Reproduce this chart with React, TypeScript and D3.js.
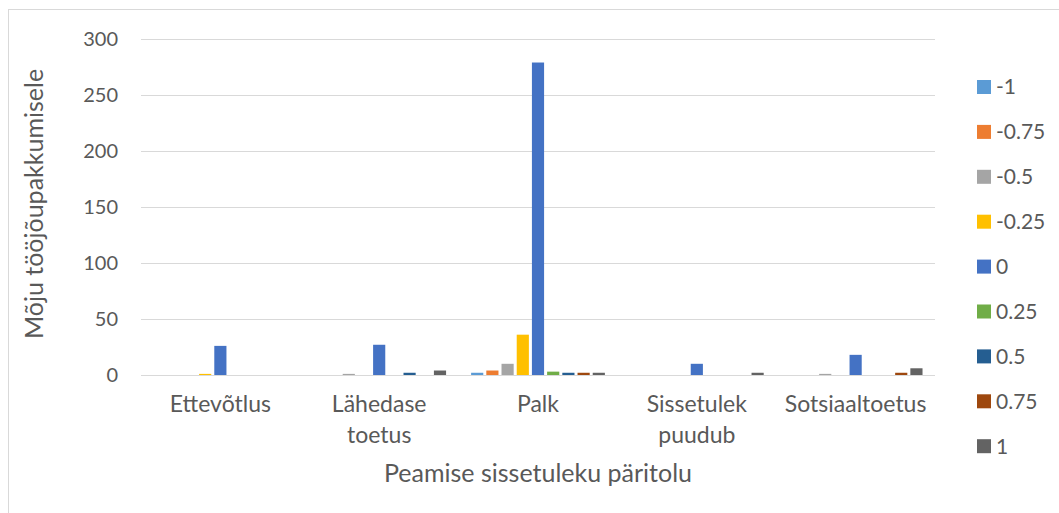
import React from "react";
import * as d3 from "d3";

const categories = ["Ettevõtlus", "Lähedase toetus", "Palk", "Sissetulek puudub", "Sotsiaaltoetus"];
const categoryLines = [["Ettevõtlus"], ["Lähedase", "toetus"], ["Palk"], ["Sissetulek", "puudub"], ["Sotsiaaltoetus"]];
const seriesNames = ["-1", "-0.75", "-0.5", "-0.25", "0", "0.25", "0.5", "0.75", "1"];
const seriesColors = ["#5B9BD5", "#ED7D31", "#A5A5A5", "#FFC000", "#4472C4", "#70AD47", "#255E91", "#9E480E", "#636363"];
const valuesEttevotlus = [0, 0, 0, 1, 26, 0, 0, 0, 0];
const valuesLahedase = [0, 0, 1, 0, 27, 0, 2, 0, 4];
const valuesPalk = [2, 4, 10, 36, 279, 3, 2, 2, 2];
const valuesPuudub = [0, 0, 0, 0, 10, 0, 0, 0, 2];
const valuesSotsiaal = [0, 0, 1, 0, 18, 0, 0, 2, 6];
const yTicks = [0, 50, 100, 150, 200, 250, 300];
const yTitle = "Mõju tööjõupakkumisele";
const xTitle = "Peamise sissetuleku päritolu";

const values = [valuesEttevotlus, valuesLahedase, valuesPalk, valuesPuudub, valuesSotsiaal];

const W = 1059;
const H = 513;
const plotL = 141;
const plotR = 935;
const plotT = 39;
const plotB = 375;
const FONT = "Lato, 'Open Sans', sans-serif";
const TXT = "#595959";

export default function App() {
  const y = d3.scaleLinear().domain([0, 300]).range([plotB, plotT]);
  const x0 = d3.scaleBand<string>().domain(categories).range([plotL, plotR]).paddingInner(0.1385).paddingOuter(0.069);
  const x1 = d3.scaleBand<string>().domain(seriesNames).range([0, x0.bandwidth()]).paddingInner(0.2).paddingOuter(0.1);

  return (
    <svg width={W} height={H} style={{ position: "absolute", left: 0, top: 0, display: "block", background: "#fff" }} fontFamily={FONT}>
      <rect x={8.5} y={9.5} width={W + 10} height={H + 10} fill="#fff" stroke="#d9d9d9" strokeWidth={1} />
      {yTicks.map((t) => (
        <g key={t}>
          <line x1={plotL} x2={plotR} y1={Math.round(y(t)) + 0.5} y2={Math.round(y(t)) + 0.5} stroke="#d9d9d9" strokeWidth={1} />
          <text x={118} y={y(t)} dy="0.35em" textAnchor="end" fontSize={20} fill={TXT}>{t}</text>
        </g>
      ))}
      {categories.map((c, ci) => (
        <g key={c} transform={`translate(${x0(c)},0)`}>
          {seriesNames.map((s, si) => {
            const v = values[ci][si];
            if (!v) return null;
            return (
              <rect key={s} x={x1(s)} y={y(v)} width={x1.bandwidth()} height={plotB - y(v)} fill={seriesColors[si]} />
            );
          })}
        </g>
      ))}
      {categories.map((c, ci) => (
        <text key={c} x={(x0(c) as number) + x0.bandwidth() / 2} y={412} textAnchor="middle" fontSize={23} fill={TXT}>
          {categoryLines[ci].map((l, li) => (
            <tspan key={li} x={(x0(c) as number) + x0.bandwidth() / 2} dy={li === 0 ? 0 : 31}>{l}</tspan>
          ))}
        </text>
      ))}
      <text x={(plotL + plotR) / 2} y={482} textAnchor="middle" fontSize={25} fill={TXT}>{xTitle}</text>
      <text transform={`translate(43,204) rotate(-90)`} textAnchor="middle" fontSize={25} fill={TXT}>{yTitle}</text>
      {seriesNames.map((s, i) => {
        const cy = 87 + i * 44.9;
        return (
          <g key={s}>
            <rect x={977} y={cy - 7} width={14} height={14} fill={seriesColors[i]} />
            <text x={996} y={cy} dy="0.35em" fontSize={21} fill={TXT}>{s}</text>
          </g>
        );
      })}
    </svg>
  );
}
